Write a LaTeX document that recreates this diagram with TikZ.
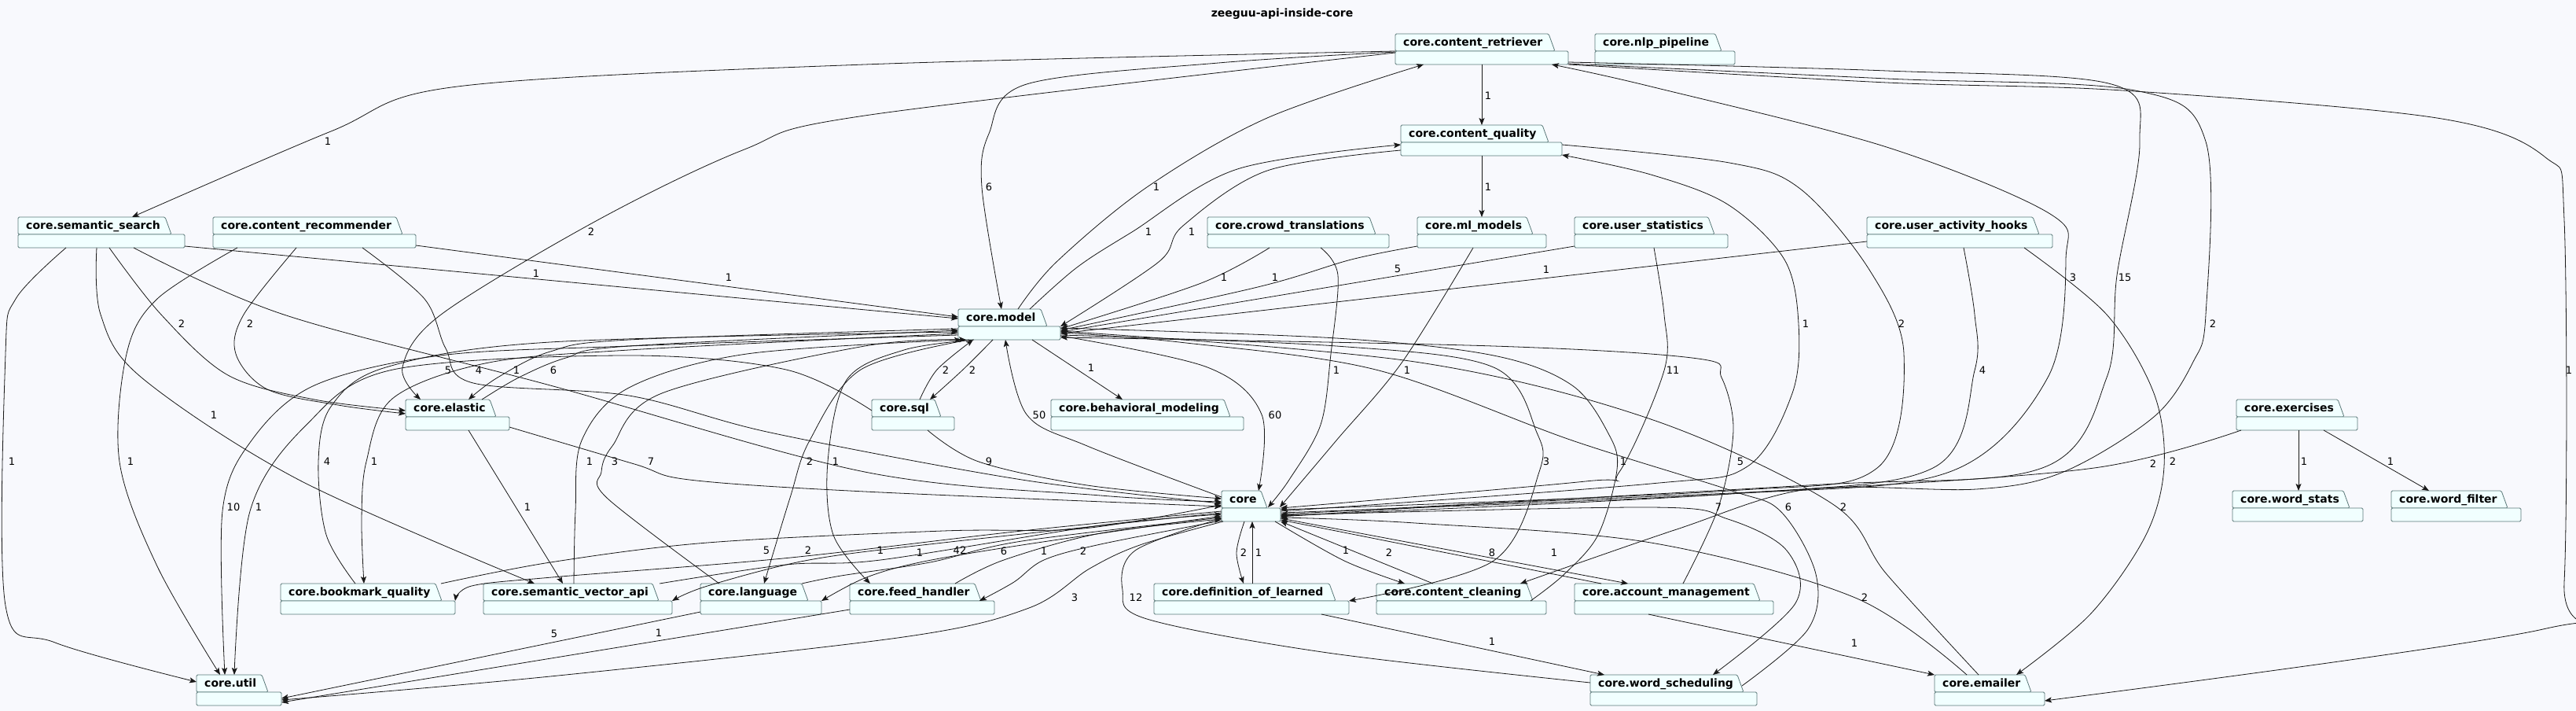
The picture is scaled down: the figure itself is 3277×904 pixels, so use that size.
\documentclass[tikz,border=0pt]{standalone}
\usepackage{fontspec}
\setmainfont{DejaVu Sans}
\usetikzlibrary{arrows.meta}
\definecolor{bgcol}{HTML}{F8F9FD}
\definecolor{pkgfill}{HTML}{F1FFFF}
\definecolor{pkgline}{HTML}{5A7878}
\definecolor{edgecol}{HTML}{181818}

% package: name, left, top, right, text
\newcommand{\pkg}[5]{%
  \node[pkgarea, minimum width={#4-#2}, anchor=north west] (#1) at (#2,#3) {};
  \filldraw[pkgshape] (#2,#3+22) -- (#2,#3) -- (#4-25,#3) -- (#4-17,#3+22) -- cycle;
  \filldraw[pkgshape] (#2,#3+22) rectangle (#4,#3+39);
  \node[pkgtext] (#1-t) at (#2+10,#3+15.5) {#5};
}
% dependency: name, points, label position, label
\newcommand{\dep}[4]{%
  \draw[dep] plot[smooth, tension=0.55] coordinates {#2};
  \node[lbl] (#1) at (#3) {#4};
}

\begin{document}
\begin{tikzpicture}[x=1pt, y=-1pt,
  pkgarea/.style={inner sep=0pt, outer sep=0pt, minimum height=39pt},
  pkgshape/.style={draw=pkgline, fill=pkgfill, line width=0.8pt, rounded corners=1.5pt},
  pkgtext/.style={anchor=base west, inner sep=0pt, font=\fontsize{14}{16}\selectfont\bfseries},
  dep/.style={draw=edgecol, line width=0.8pt, -{Stealth[length=9pt, width=7pt, inset=2pt]}},
  lbl/.style={inner sep=1pt, font=\fontsize{13}{15}\selectfont}]
\useasboundingbox (0,0) rectangle (3277,904);
\fill[bgcol] (0,0) rectangle (3277,904);

\node[font=\fontsize{14}{16}\selectfont\bfseries] (title) at (1631,18) {zeeguu-api-inside-core};

% packages
\pkg{retriever}{1775}{43}{1995}{core.content\_retriever}
\pkg{nlp}{2029}{43}{2207}{core.nlp\_pipeline}
\pkg{quality}{1782}{159}{1987}{core.content\_quality}
\pkg{semsearch}{23}{276}{235}{core.semantic\_search}
\pkg{recommender}{271}{276}{529}{core.content\_recommender}
\pkg{crowd}{1536}{276}{1767}{core.crowd\_translations}
\pkg{mlmodels}{1803}{276}{1967}{core.ml\_models}
\pkg{userstats}{2003}{276}{2198}{core.user\_statistics}
\pkg{hooks}{2375}{276}{2611}{core.user\_activity\_hooks}
\pkg{model}{1219}{393}{1349}{core.model}
\pkg{elastic}{516}{508}{648}{core.elastic}
\pkg{sql}{1109}{508}{1214}{core.sql}
\pkg{behavioral}{1337}{508}{1582}{core.behavioral\_modeling}
\pkg{exercises}{2845}{508}{2999}{core.exercises}
\pkg{core}{1554}{624}{1629}{core}
\pkg{wordstats}{2840}{624}{3006}{core.word\_stats}
\pkg{wordfilter}{3042}{624}{3207}{core.word\_filter}
\pkg{bookmark}{357}{742}{579}{core.bookmark\_quality}
\pkg{vectorapi}{615}{742}{855}{core.semantic\_vector\_api}
\pkg{language}{891}{742}{1045}{core.language}
\pkg{feed}{1081}{742}{1265}{core.feed\_handler}
\pkg{definition}{1468}{742}{1716}{core.definition\_of\_learned}
\pkg{cleaning}{1751}{742}{1967}{core.content\_cleaning}
\pkg{account}{2003}{742}{2256}{core.account\_management}
\pkg{util}{250}{858}{358}{core.util}
\pkg{scheduling}{2023}{858}{2235}{core.word\_scheduling}
\pkg{emailer}{2461}{858}{2601}{core.emailer}

% top part
\dep{d1}{([shift={(110,39)}]retriever.north west) ([shift={(103,0)}]quality.north west)}{1893,122}{1}
\dep{d2}{([shift={(103,39)}]quality.north west) ([shift={(82,0)}]mlmodels.north west)}{1893,238}{1}
\dep{d3}{([shift={(0,22)}]retriever.north west) (1100,82) (582,110) (421,167) ([shift={(145,0)}]semsearch.north west)}{417,180}{1}
\dep{d4}{([shift={(0,24)}]retriever.north west) (1100,147) (947,190) (760,280) (561,400) (512,467) ([shift={(19,0)}]elastic.north west)}{752,295}{2}
\dep{d5}{([shift={(0,23)}]retriever.north west) (1550,80) (1306,107) (1258,170) (1249,238) ([shift={(55,0)}]model.north west)}{1258,238}{6}
\dep{d6}{([shift={(76,0)}]model.north west) (1344,333) (1459,238) (1612,150) ([shift={(36,39)}]retriever.north west)}{1471,238}{1}
\dep{d7}{([shift={(91,0)}]model.north west) (1370,340) (1440,295) (1574,215) ([shift={(0,25)}]quality.north west)}{1461,295}{1}
\dep{d8}{([shift={(0,32)}]quality.north west) (1612,217) (1505,287) (1474,333) ([shift={(130,22)}]model.north west)}{1516,295}{1}
\dep{d9}{([shift={(79,39)}]crowd.north west) (1528,360) ([shift={(130,25)}]model.north west)}{1557,353}{1}
\dep{d10}{([shift={(0,37)}]mlmodels.north west) (1719,330) (1600,365) ([shift={(130,27)}]model.north west)}{1622,353}{1}
\dep{d11}{([shift={(0,37)}]userstats.north west) ([shift={(130,29)}]model.north west)}{1778,342}{5}
\dep{d12}{([shift={(0,31)}]hooks.north west) ([shift={(130,31)}]model.north west)}{1967,343}{1}
\dep{d13}{([shift={(75,28)}]core.north west) (2200,628) (2480,600) (2605,480) (2628,330) (2608,272) (2400,187) (2100,110) ([shift={(199,39)}]retriever.north west)}{2637,353}{3}
\dep{d14}{([shift={(220,36)}]retriever.north west) (2400,90) (2686,107) (2722,180) (2693,350) (2680,480) (2598,595) (2300,617) ([shift={(75,30)}]core.north west)}{2703,353}{15}
\dep{d15}{([shift={(220,38)}]retriever.north west) (2400,100) (2716,115) (2806,180) (2806,400) (2790,460) (2740,530) (2625,600) (2514,622) (2300,622) (2133,673) ([shift={(183,0)}]cleaning.north west)}{2815,412}{2}
\dep{d16}{([shift={(220,39)}]retriever.north west) (2400,105) (2700,115) (3100,150) (3238,200) (3262,280) (3262,740) (3235,800) ([shift={(140,33)}]emailer.north west)}{3268,471}{1}
\dep{d17}{([shift={(75,26)}]core.north west) (2100,615) (2223,593) (2280,500) (2288,412) (2270,330) (2198,260) (2100,222) ([shift={(205,38)}]quality.north west)}{2297,412}{1}
\dep{d18}{([shift={(205,25)}]quality.north west) (2200,207) (2290,240) (2378,343) (2422,450) (2388,595) (2200,624) ([shift={(75,24)}]core.north west)}{2419,412}{2}
\dep{d19}{([shift={(123,39)}]hooks.north west) (2512,400) (2512,471) (2459,595) (2200,628) ([shift={(75,32)}]core.north west)}{2522,471}{4}
\dep{d20}{([shift={(200,39)}]hooks.north west) (2680,400) (2740,500) (2753,593) (2730,680) (2660,780) ([shift={(104,0)}]emailer.north west)}{2764,587}{2}
\dep{d21}{([shift={(101,39)}]userstats.north west) (2117,400) (2117,471) (2060,600) (2017,612) ([shift={(75,22)}]core.north west)}{2128,471}{11}

% right part
\dep{d22}{([shift={(130,33)}]model.north west) (1700,440) (1900,467) (1955,550) (1958,600) (1900,713) ([shift={(248,22)}]definition.north west)}{1967,587}{3}
\dep{d23}{([shift={(196,22)}]cleaning.north west) (1990,730) (2033,680) (2057,597) (2047,553) (2000,490) (1900,452) (1700,430) ([shift={(130,24)}]model.north west)}{2065,587}{1}
\dep{d24}{([shift={(138,0)}]account.north west) (2186,645) (2205,547) (2190,480) (2160,456) (1900,440) ([shift={(130,36)}]model.north west)}{2214,587}{5}
\dep{d25}{([shift={(75,31)}]core.north west) (2100,645) (2198,660) (2273,700) (2284,767) ([shift={(156,0)}]scheduling.north west)}{2186,645}{7}
\dep{d26}{([shift={(193,14)}]scheduling.north west) (2300,800) (2310,730) (2265,650) (2200,623) (2000,560) (1750,470) (1500,435) ([shift={(130,30)}]model.north west)}{2275,645}{6}
\dep{d27}{([shift={(56,0)}]emailer.north west) (2400,730) (2330,640) (2100,533) (1800,460) ([shift={(130,28)}]model.north west)}{2345,645}{2}
\dep{d28}{([shift={(41,0)}]emailer.north west) (2360,760) (2100,690) (1800,665) ([shift={(75,34)}]core.north west)}{2372,760}{2}
\dep{d29}{([shift={(94,39)}]account.north west) ([shift={(0,0)}]emailer.north west)}{2359,818}{1}
\dep{d30}{([shift={(213,39)}]definition.north west) ([shift={(18,0)}]scheduling.north west)}{1898,816}{1}
\dep{d31}{([shift={(6,39)}]exercises.north west) (2664,595) (2300,622) (1900,640) ([shift={(75,33)}]core.north west)}{2739,590}{2}
\dep{d32}{([shift={(79,39)}]exercises.north west) ([shift={(84,0)}]wordstats.north west)}{2931,587}{1}
\dep{d33}{([shift={(111,39)}]exercises.north west) ([shift={(48,0)}]wordfilter.north west)}{3041,587}{1}

% left part
\dep{d34}{([shift={(212,37)}]semsearch.north west) ([shift={(0,12)}]model.north west)}{682,348}{1}
\dep{d35}{([shift={(258,36)}]recommender.north west) ([shift={(0,10)}]model.north west)}{927,353}{1}
\dep{d36}{([shift={(116,39)}]semsearch.north west) (205,400) (290,477) (400,508) ([shift={(0,14)}]elastic.north west)}{231,412}{2}
\dep{d37}{([shift={(106,39)}]recommender.north west) (310,400) (300,450) (340,495) (430,515) ([shift={(0,18)}]elastic.north west)}{318,412}{2}
\dep{d38}{([shift={(147,39)}]semsearch.north west) (361,400) (700,490) (1100,600) (1400,630) ([shift={(0,14)}]core.north west)}{570,471}{5}
\dep{d39}{([shift={(190,39)}]recommender.north west) (540,380) (567,443) (602,487) (800,503) (980,550) (1300,610) ([shift={(0,16)}]core.north west)}{609,471}{4}
\dep{d40}{([shift={(0,25)}]model.north west) (800,432) (700,447) (633,480) ([shift={(80,0)}]elastic.north west)}{657,471}{1}
\dep{d41}{([shift={(97,0)}]elastic.north west) (660,480) (720,455) (800,440) ([shift={(0,27)}]model.north west)}{704,471}{6}
\dep{d42}{([shift={(100,39)}]semsearch.north west) (128,400) (180,480) (380,610) ([shift={(65,0)}]vectorapi.north west)}{272,528}{1}
\dep{d43}{([shift={(61,39)}]semsearch.north west) (20,380) (7,450) (7,770) (70,817) ([shift={(0,9)}]util.north west)}{15,587}{1}
\dep{d44}{([shift={(31,39)}]recommender.north west) (200,380) (161,450) (152,587) (200,720) ([shift={(30,0)}]util.north west)}{166,587}{1}
\dep{d45}{([shift={(95,0)}]bookmark.north west) (415,680) (405,587) (421,517) (491,467) (700,435) ([shift={(0,29)}]model.north west)}{416,587}{4}
\dep{d46}{([shift={(0,31)}]model.north west) (800,445) (617,462) (499,507) (466,587) (460,660) ([shift={(106,0)}]bookmark.north west)}{476,587}{1}
\dep{d47}{([shift={(115,0)}]vectorapi.north west) (732,650) (740,560) (800,493) (950,450) ([shift={(4,39)}]model.north west)}{750,587}{1}
\dep{d48}{([shift={(24,0)}]language.north west) (772,633) (765,600) (779,567) (842,500) (1100,440) ([shift={(10,39)}]model.north west)}{782,587}{3}
\dep{d49}{([shift={(132,35)}]elastic.north west) (807,590) (877,610) (1100,625) ([shift={(0,20)}]core.north west)}{828,587}{7}
\dep{d50}{([shift={(14,39)}]model.north west) (1095,470) (1030,560) (1005,633) ([shift={(81,0)}]language.north west)}{1030,587}{2}
\dep{d51}{([shift={(20,39)}]model.north west) (1150,445) (1077,483) (1053,587) (1060,680) ([shift={(26,0)}]feed.north west)}{1063,587}{1}
\dep{d52}{([shift={(0,33)}]model.north west) (800,440) (560,452) (400,490) (320,560) (283,650) ([shift={(36,0)}]util.north west)}{297,645}{10}
\dep{d53}{([shift={(0,14)}]sql.north west) (1000,470) (800,452) (500,470) (390,540) (318,650) ([shift={(48,0)}]util.north west)}{329,645}{1}
\dep{d54}{([shift={(80,39)}]elastic.north west) ([shift={(101,0)}]vectorapi.north west)}{671,645}{1}

% around core.model and core
\dep{d55}{([shift={(61,0)}]sql.north west) (1192,470) ([shift={(19,39)}]model.north west)}{1203,471}{2}
\dep{d56}{([shift={(44,39)}]model.north west) (1225,470) ([shift={(74,0)}]sql.north west)}{1237,471}{2}
\dep{d57}{([shift={(94,39)}]model.north west) ([shift={(91,0)}]behavioral.north west)}{1388,468}{1}
\dep{d58}{([shift={(144,39)}]crowd.north west) (1702,350) (1693,450) (1680,540) (1640,610) ([shift={(59,21)}]core.north west)}{1700,471}{1}
\dep{d59}{([shift={(71,39)}]mlmodels.north west) (1784,460) (1700,560) ([shift={(74,21)}]core.north west)}{1790,471}{1}
\dep{d60}{([shift={(0,8)}]core.north west) (1383,567) (1306,527) ([shift={(60,39)}]model.north west)}{1322,528}{50}
\dep{d61}{([shift={(130,34)}]model.north west) (1536,467) (1605,527) ([shift={(47,0)}]core.north west)}{1622,528}{60}
\dep{d62}{([shift={(71,39)}]sql.north west) (1245,587) (1383,617) ([shift={(0,10)}]core.north west)}{1258,587}{9}

% bottom part
\dep{d63}{([shift={(0,26)}]core.north west) (1300,675) (996,710) (702,734) (600,745) ([shift={(222,22)}]bookmark.north west)}{975,700}{5}
\dep{d64}{([shift={(0,28)}]core.north west) (1200,690) (1029,712) (900,745) ([shift={(240,22)}]vectorapi.north west)}{1028,700}{2}
\dep{d65}{([shift={(224,0)}]vectorapi.north west) (1000,718) (1120,712) (1400,668) ([shift={(0,30)}]core.north west)}{1120,700}{1}
\dep{d66}{([shift={(0,32)}]core.north west) (1300,693) (1170,715) (1100,735) ([shift={(154,22)}]language.north west)}{1170,703}{1}
\dep{d67}{([shift={(129,0)}]language.north west) (1070,732) (1183,715) (1300,688) ([shift={(0,34)}]core.north west)}{1221,700}{42}
\dep{d68}{([shift={(134,0)}]feed.north west) (1277,712) (1400,678) ([shift={(0,36)}]core.north west)}{1277,701}{6}
\dep{d69}{([shift={(0,38)}]core.north west) (1400,692) (1328,712) (1290,740) ([shift={(165,22)}]feed.north west)}{1328,701}{1}
\dep{d70}{([shift={(204,0)}]bookmark.north west) (700,715) (900,690) (1200,675) (1378,672) ([shift={(0,18)}]core.north west)}{1378,701}{2}
\dep{d71}{([shift={(29,39)}]core.north west) (1573,703) ([shift={(114,0)}]definition.north west)}{1582,703}{2}
\dep{d72}{([shift={(125,0)}]definition.north west) ([shift={(39,39)}]core.north west)}{1601,703}{1}
\dep{d73}{([shift={(68,39)}]core.north west) (1710,713) ([shift={(36,0)}]cleaning.north west)}{1712,700}{1}
\dep{d74}{([shift={(72,0)}]cleaning.north west) ([shift={(75,39)}]core.north west)}{1767,703}{2}
\dep{d75}{([shift={(34,0)}]account.north west) ([shift={(75,37)}]core.north west)}{1898,703}{8}
\dep{d76}{([shift={(75,35)}]core.north west) ([shift={(68,0)}]account.north west)}{1977,703}{1}
\dep{d77}{([shift={(2,39)}]core.north west) (1450,693) (1386,723) (1309,773) (1149,810) (700,860) ([shift={(108,32)}]util.north west)}{1367,760}{3}
\dep{d78}{([shift={(0,10)}]scheduling.north west) (1689,830) (1459,787) (1428,750) (1444,700) ([shift={(0,35)}]core.north west)}{1445,760}{12}
\dep{d79}{([shift={(0,36)}]language.north west) ([shift={(108,30)}]util.north west)}{705,806}{5}
\dep{d80}{([shift={(0,33)}]feed.north west) ([shift={(108,35)}]util.north west)}{838,805}{1}
\end{tikzpicture}
\end{document}
